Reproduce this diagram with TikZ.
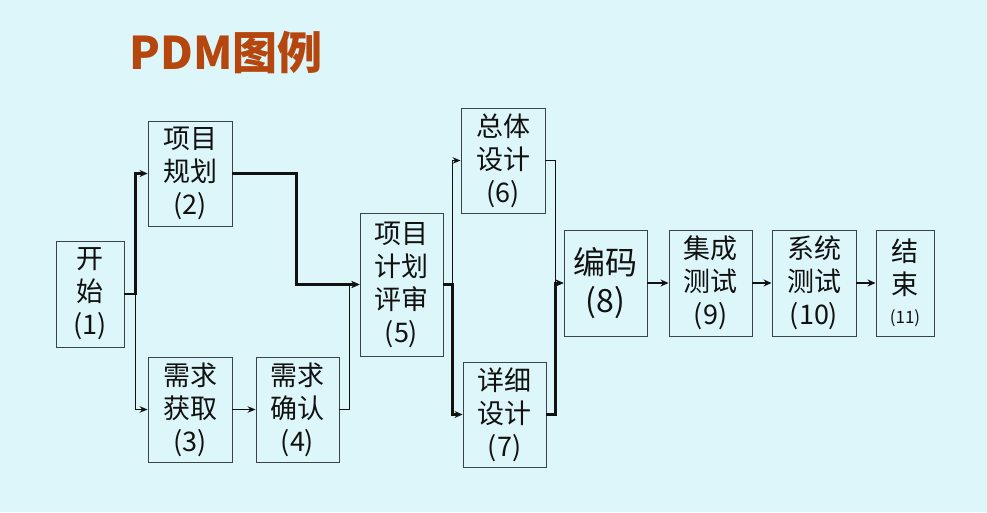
\documentclass[tikz,border=0pt]{standalone}
\usepackage{fontspec}
\setmainfont{Noto Sans CJK SC}
\usepackage{tikz}
\usetikzlibrary{arrows.meta,positioning}
\definecolor{paper}{HTML}{DDF6F9}
\definecolor{rust}{HTML}{B5460E}
\definecolor{ink}{HTML}{111111}
\definecolor{edge}{HTML}{3A4448}

\begin{document}
\begin{tikzpicture}[x=1pt,y=-1pt,
   task/.style={draw=edge,line width=0.9pt,inner sep=0pt,align=center,
                font=\fontsize{27}{33}\selectfont,text=ink},
   crit/.style={-{Stealth[length=8pt,width=7pt]},line width=2.5pt,ink},
   flow/.style={-{Stealth[length=8pt,width=6.5pt]},line width=1.1pt,ink}]
  \fill[paper] (0,0) rectangle (987,512);
  \node[font=\fontsize{45}{45}\bfseries,text=rust] (title) at (226,52) {PDM图例};
  % tasks
  \node[task,minimum width=68pt,minimum height=106pt] (t1) at (90,294) {开\\始\\(1)};
  \node[task,minimum width=84pt,minimum height=105pt] (t2) at (190,173.5) {项目\\规划\\(2)};
  \node[task,minimum width=84pt,minimum height=105pt] (t3) at (190,409.5) {需求\\获取\\(3)};
  \node[task,minimum width=83pt,minimum height=105pt] (t4) at (297.5,409.5) {需求\\确认\\(4)};
  \node[task,minimum width=83pt,minimum height=143pt] (t5) at (401.5,284.5) {项目\\计划\\评审\\(5)};
  \node[task,minimum width=84pt,minimum height=105pt] (t6) at (503,160.5) {总体\\设计\\(6)};
  \node[task,minimum width=83pt,minimum height=105pt] (t7) at (504.5,414.5) {详细\\设计\\(7)};
  \node[task,minimum width=83pt,minimum height=106pt,font=\fontsize{32}{38}\selectfont] (t8) at (605.5,283) {编码\\(8)};
  \node[task,minimum width=83pt,minimum height=106pt] (t9) at (710.5,283) {集成\\测试\\(9)};
  \node[task,minimum width=84pt,minimum height=106pt] (t10) at (814,283) {系统\\测试\\(10)};
  \node[task,minimum width=58pt,minimum height=106pt] (t11) at (905,283) {结\\束\\[-4pt]{\fontsize{17}{19}\selectfont(11)}};
  % links
  \draw[flow] (t1.east) -- ++(11,0) |- (t3);
  \draw[flow] (t3) -- (t4);
  \draw[flow] (t4.east) -- ++(10,0) |- (t5);
  \draw[flow] (t5.east) -- ++(9,0) |- (t6);
  \draw[flow] (t6.east) -- ++(10,0) |- (t8);
  \draw[crit] (t1.east) -- ++(11,0) |- (t2);
  \draw[crit] (t2.east) -- ++(64,0) |- (t5);
  \draw[crit] (t5.east) -- ++(9,0) |- (t7);
  \draw[crit] (t7.east) -- ++(9,0) |- (t8);
  \draw[crit] (t8) -- (t9);
  \draw[crit] (t9) -- (t10);
  \draw[crit] (t10) -- (t11);
\end{tikzpicture}
\end{document}
